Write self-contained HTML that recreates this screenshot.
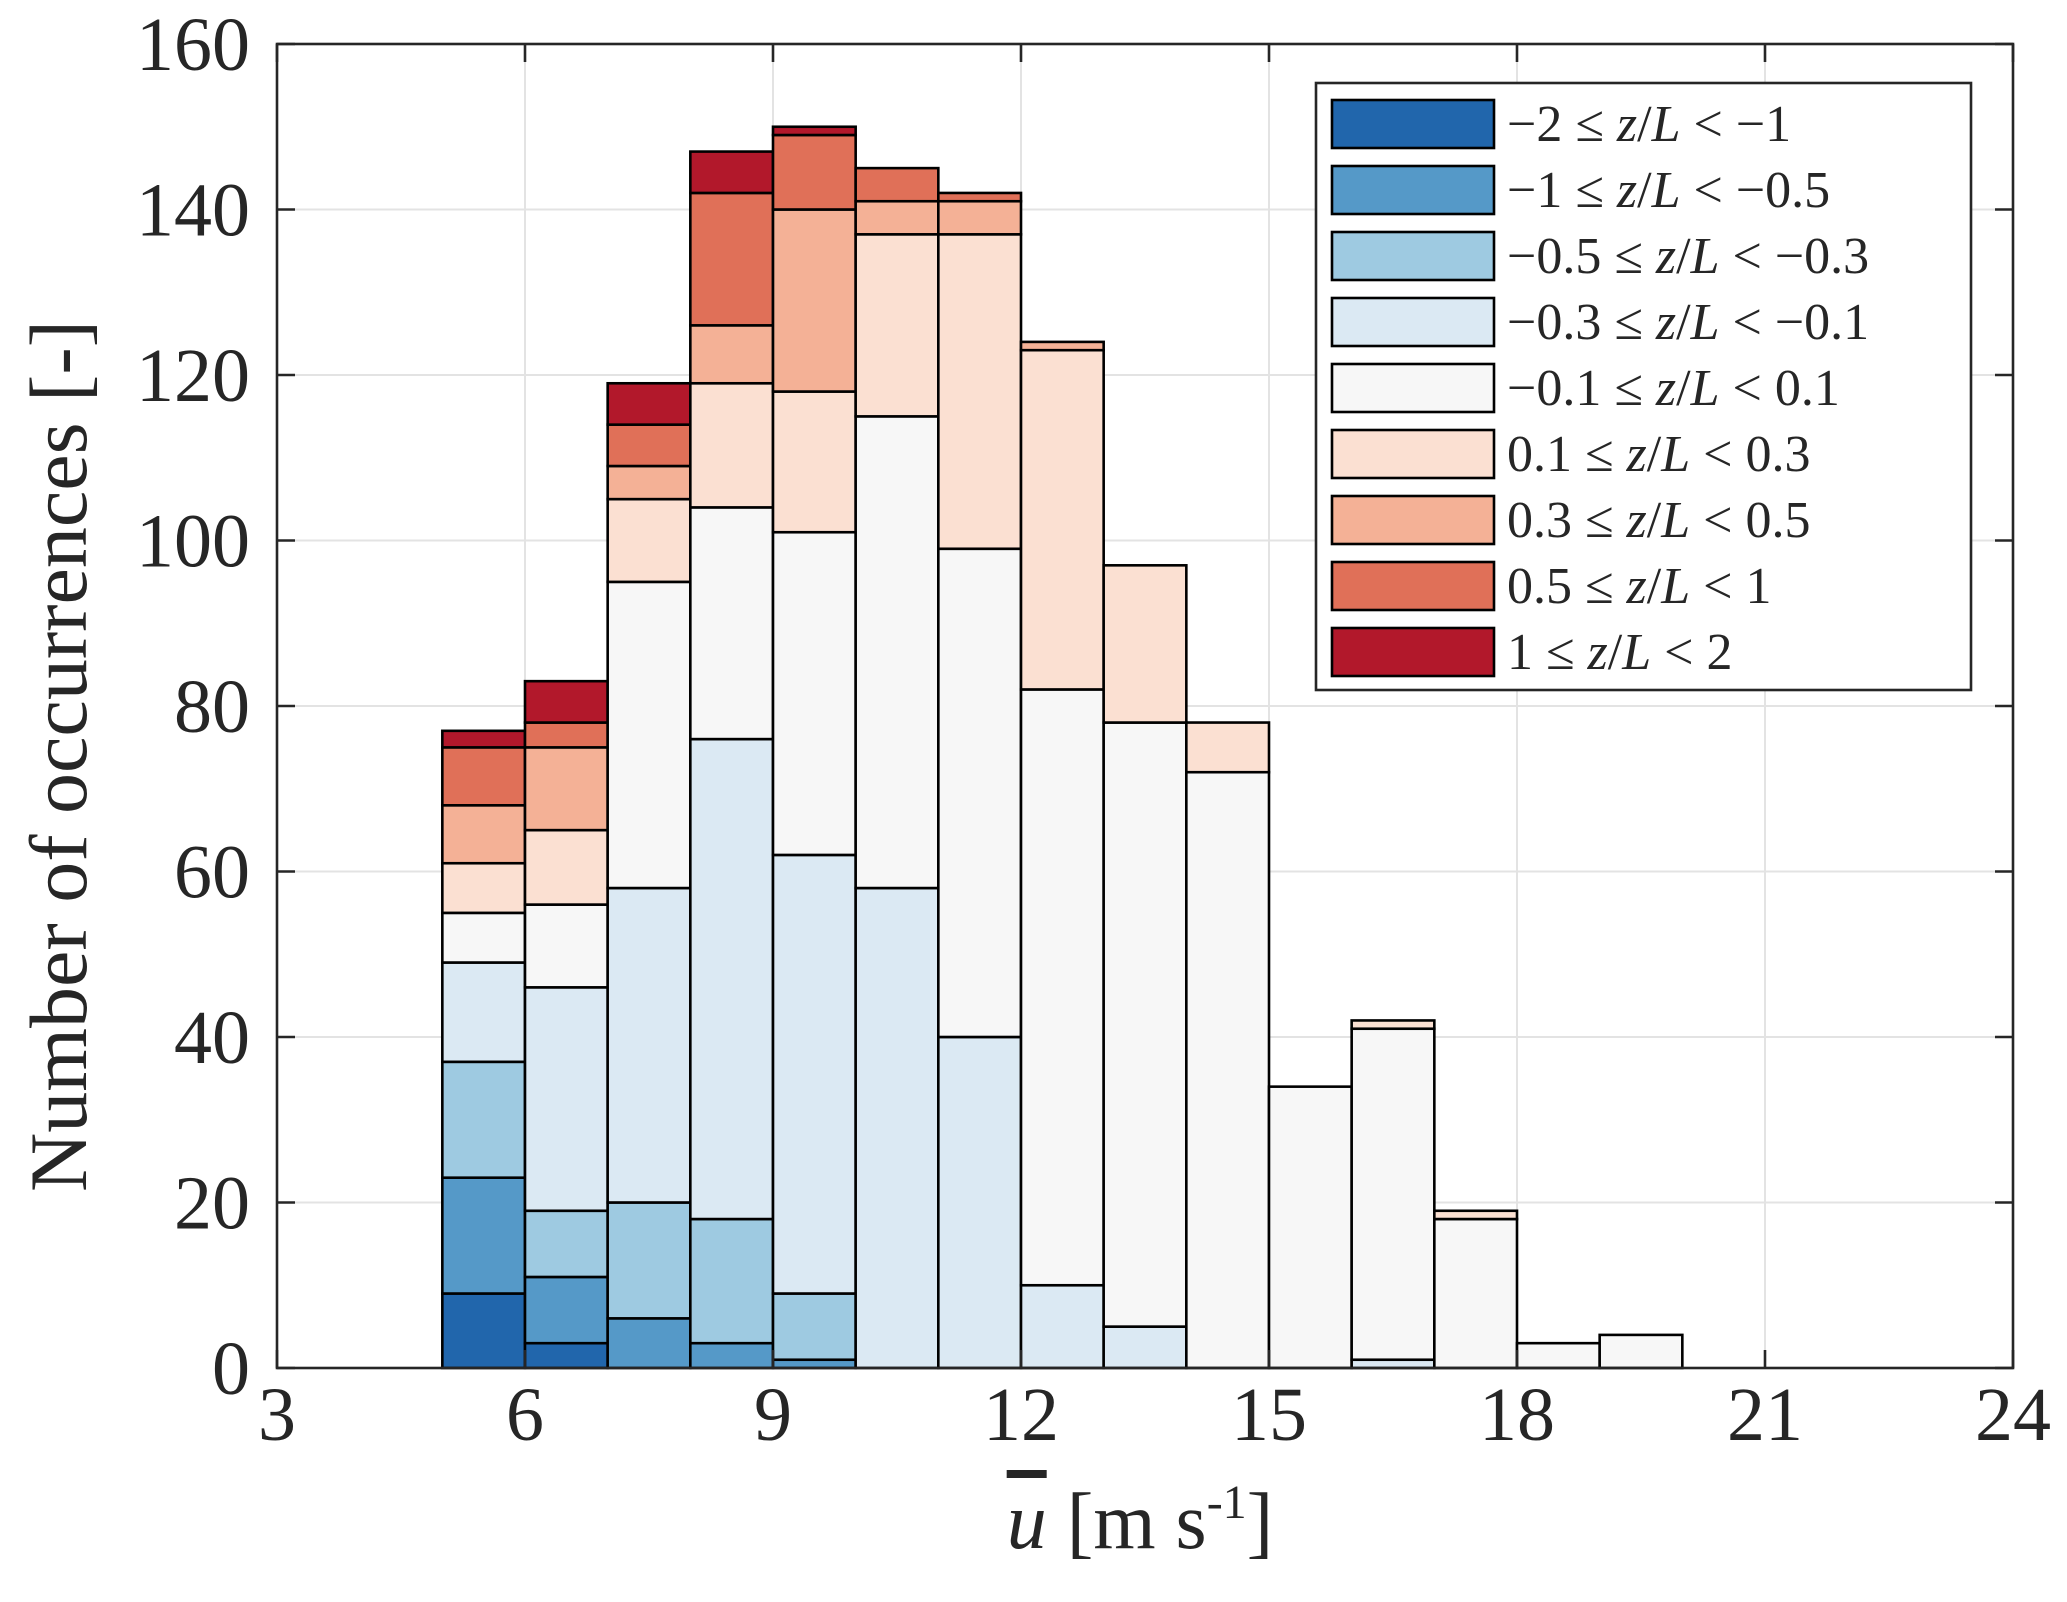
<!DOCTYPE html>
<html><head><meta charset="utf-8"><style>
html,body{margin:0;padding:0;background:#fff;}
svg{display:block;font-family:"Liberation Serif",serif;}
</style></head><body>
<svg id="chart" width="2067" height="1602" viewBox="0 0 2067 1602"></svg>
<script>
const binStarts=[5,6,7,8,9,10,11,12,13,14,15,16,17,18,19];
const seriesLabels=["\u22122 \u2264 z/L < \u22121","\u22121 \u2264 z/L < \u22120.5","\u22120.5 \u2264 z/L < \u22120.3","\u22120.3 \u2264 z/L < \u22120.1","\u22120.1 \u2264 z/L < 0.1","0.1 \u2264 z/L < 0.3","0.3 \u2264 z/L < 0.5","0.5 \u2264 z/L < 1","1 \u2264 z/L < 2"];
const s1=[9,3,0,0,0,0,0,0,0,0,0,0,0,0,0];
const s2=[14,8,6,3,1,0,0,0,0,0,0,0,0,0,0];
const s3=[14,8,14,15,8,0,0,0,0,0,0,0,0,0,0];
const s4=[12,27,38,58,53,58,40,10,5,0,0,1,0,0,0];
const s5=[6,10,37,28,39,57,59,72,73,72,34,40,18,3,4];
const s6=[6,9,10,15,17,22,38,41,19,6,0,1,1,0,0];
const s7=[7,10,4,7,22,4,4,1,0,0,0,0,0,0,0];
const s8=[7,3,5,16,9,4,1,0,0,0,0,0,0,0,0];
const s9=[2,5,5,5,1,0,0,0,0,0,0,0,0,0,0];
const series=[s1,s2,s3,s4,s5,s6,s7,s8,s9];
const colors=["#2166ac","#5599c8","#9ecae1","#dbe9f3","#f7f7f7","#fbe0d2","#f4b196","#e07058","#b2182b"];
const xTicks=[3,6,9,12,15,18,21,24];
const yTicks=[0,20,40,60,80,100,120,140,160];

const L=277,R=2013,T=44,B=1368;
const X=v=>L+(v-3)/(24-3)*(R-L);
const Y=v=>B-v/160*(B-T);
const NS="http://www.w3.org/2000/svg";
const svg=document.getElementById('chart');
function mk(tag,attrs,parent){const e=document.createElementNS(NS,tag);for(const k in attrs)e.setAttribute(k,attrs[k]);(parent||svg).appendChild(e);return e;}

const grid=mk('g',{});


xTicks.forEach(t=>{if(t>3&&t<24)mk('line',{x1:X(t),x2:X(t),y1:T,y2:B,stroke:'#e3e3e3','stroke-width':2},grid);});
yTicks.forEach(t=>{if(t>0&&t<160)mk('line',{x1:L,x2:R,y1:Y(t),y2:Y(t),stroke:'#e3e3e3','stroke-width':2},grid);});

const bars=mk('g',{});


binStarts.forEach((b,i)=>{
  let cum=0;
  series.forEach((s,k)=>{
    const v=s[i];
    if(v<=0)return;
    const r=mk('rect',{x:X(b),y:Y(cum+v),width:X(b+1)-X(b),height:Y(cum)-Y(cum+v),fill:colors[k],stroke:'#000','stroke-width':2.6},bars);
    
    
    cum+=v;
  });
});

const box=mk('rect',{x:L,y:T,width:R-L,height:B-T,fill:'none',stroke:'#262626','stroke-width':2.6});


const ticks=mk('g',{stroke:'#262626','stroke-width':2.6});


xTicks.forEach(t=>{mk('line',{x1:X(t),x2:X(t),y1:B,y2:B-18},ticks);mk('line',{x1:X(t),x2:X(t),y1:T,y2:T+18},ticks);});
yTicks.forEach(t=>{mk('line',{x1:L,x2:L+18,y1:Y(t),y2:Y(t)},ticks);mk('line',{x1:R,x2:R-18,y1:Y(t),y2:Y(t)},ticks);});

xTicks.forEach(t=>{const e=mk('text',{x:X(t),y:1440,'text-anchor':'middle','font-size':76,fill:'#262626'});e.textContent=t;

});
yTicks.forEach(t=>{const e=mk('text',{x:250,y:Y(t)+26,'text-anchor':'end','font-size':76,fill:'#262626'});e.textContent=t;

});

const yt=mk('text',{x:0,y:0,transform:'translate(86,756) rotate(-90)','text-anchor':'middle','font-size':82,fill:'#262626'});
yt.textContent='Number of occurrences [-]';


const xt=mk('text',{x:1140,y:1548,'text-anchor':'middle','font-size':80,fill:'#262626'});
xt.innerHTML='<tspan font-style="italic" text-decoration="overline">u</tspan> [m s<tspan font-size="48" dy="-30">-1</tspan><tspan dy="30">]</tspan>';



const lg=mk('g',{});


mk('rect',{x:1316,y:83,width:655,height:607,fill:'#fff',stroke:'#262626','stroke-width':2.6},lg);
seriesLabels.forEach((lab,k)=>{
  const cy=124+k*66;
  const sw=mk('rect',{x:1332,y:cy-24,width:162,height:48,fill:colors[k],stroke:'#000','stroke-width':2.6},lg);
  
  
  const t=mk('text',{x:1507,y:cy+17,'font-size':52,fill:'#262626'},lg);
  t.innerHTML=lab.replace(/z\/L/,'<tspan font-style="italic">z</tspan>/<tspan font-style="italic">L</tspan>');
  
  
});
</script>
</body></html>
